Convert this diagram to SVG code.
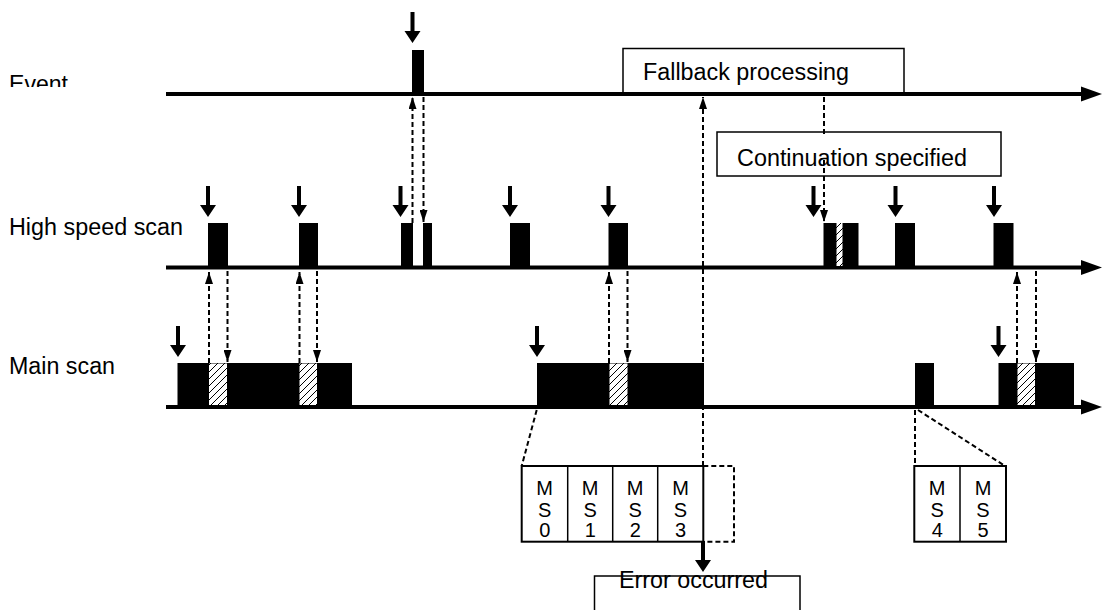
<svg xmlns="http://www.w3.org/2000/svg" width="1102" height="610" viewBox="0 0 1102 610">
  <style>
    .lbl { font-family: "Liberation Sans", Arial, sans-serif; font-size: 23px; fill: #000; }
    .ms { font-family: "Liberation Sans", Arial, sans-serif; font-size: 20px; fill: #000; text-anchor: middle; }
    .axis { stroke: #000; stroke-width: 4; fill: none; }
    .blk { fill: #000; }
    .hatch { fill: url(#hatch); }
    .dash { stroke: #000; stroke-width: 2; stroke-dasharray: 5 3; fill: none; }
    .dasharr { stroke: #000; stroke-width: 2; stroke-dasharray: 5 3; fill: none; marker-end: url(#tip); }
    .box { fill: #fff; stroke: #000; stroke-width: 1.5; }
    .cell { fill: #fff; stroke: #000; stroke-width: 2; }
    .div { stroke: #000; stroke-width: 1.5; }
  </style>
  <defs>
    <pattern id="hatch" patternUnits="userSpaceOnUse" width="7" height="7">
      <rect width="7" height="7" fill="#fff"/>
      <path d="M-1,8 L8,-1 M-1,1 L1,-1 M6,8 L8,6" stroke="#000" stroke-width="1"/>
    </pattern>
    <marker id="tip" markerUnits="userSpaceOnUse" markerWidth="12" markerHeight="8" refX="12" refY="4" orient="auto">
      <path d="M0,0 L12,4 L0,8 Z" fill="#000"/>
    </marker>
    <!-- solid trigger arrow, origin at the tip -->
    <path id="trig" d="M-2,-31 H2 V-12 H8 L0,0 L-8,-12 H-2 Z" fill="#000"/>
    <clipPath id="evclip"><rect x="0" y="60" width="160" height="27"/></clipPath>
  </defs>

  <!-- row labels -->
  <g id="labels">
    <text class="lbl" x="9" y="91.5" textLength="59" lengthAdjust="spacingAndGlyphs" clip-path="url(#evclip)">Event</text>
    <text class="lbl" x="9" y="234.5" textLength="174" lengthAdjust="spacingAndGlyphs">High speed scan</text>
    <text class="lbl" x="9" y="374" textLength="106" lengthAdjust="spacingAndGlyphs">Main scan</text>
  </g>

  <!-- callout boxes -->
  <g id="fallback">
    <rect class="box" x="623" y="48.5" width="281" height="46"/>
    <text class="lbl" x="643" y="79.5" textLength="206" lengthAdjust="spacingAndGlyphs">Fallback processing</text>
  </g>
  <g id="continuation">
    <rect class="box" x="717" y="132" width="284" height="44"/>
    <text class="lbl" x="737" y="165.5" textLength="230" lengthAdjust="spacingAndGlyphs">Continuation specified</text>
  </g>
  <g id="error">
    <path class="box" d="M594.5,612 V576 H800 V612"/>
    <text class="lbl" x="619" y="587.5" textLength="149" lengthAdjust="spacingAndGlyphs">Error occurred</text>
  </g>

  <!-- time axes -->
  <g id="axes">
    <line class="axis" x1="166" y1="94" x2="1084" y2="94"/>
    <polygon points="1081,86.5 1102,94 1081,101.5" fill="#000"/>
    <line class="axis" x1="166" y1="267.5" x2="1084" y2="267.5"/>
    <polygon points="1081,260 1102,267.5 1081,275" fill="#000"/>
    <line class="axis" x1="166" y1="407" x2="1084" y2="407"/>
    <polygon points="1081,399.5 1102,407 1081,414.5" fill="#000"/>
  </g>

  <!-- event task -->
  <g id="event-task">
    <rect class="blk" x="412" y="50" width="12" height="44"/>
  </g>

  <!-- high speed scan executions -->
  <g id="hs-scans">
    <rect class="blk" x="208" y="223" width="20" height="44"/>
    <rect class="blk" x="299" y="223" width="19" height="44"/>
    <rect class="blk" x="401" y="223" width="12" height="44"/>
    <rect class="blk" x="423" y="223" width="9" height="44"/>
    <rect class="blk" x="510" y="223" width="20" height="44"/>
    <rect class="blk" x="608.5" y="223" width="19.5" height="44"/>
    <rect class="blk" x="823.5" y="223" width="35" height="44"/>
    <rect class="hatch" x="836.5" y="223" width="6" height="43"/>
    <rect class="blk" x="895" y="223" width="20" height="44"/>
    <rect class="blk" x="993.5" y="223" width="20" height="44"/>
  </g>

  <!-- main scan executions -->
  <g id="main-scans">
    <rect class="blk" x="177.5" y="363" width="174.5" height="44"/>
    <rect class="hatch" x="209" y="363.5" width="18" height="41.5"/>
    <rect class="hatch" x="299.5" y="363.5" width="17.5" height="41.5"/>
    <rect class="blk" x="537" y="363" width="167" height="44"/>
    <rect class="hatch" x="609.5" y="363.5" width="18" height="41.5"/>
    <rect class="blk" x="915" y="363" width="19" height="44"/>
    <rect class="blk" x="998.5" y="363" width="75.5" height="44"/>
    <rect class="hatch" x="1017.5" y="363.5" width="17.5" height="41.5"/>
  </g>

  <!-- main scan program sections -->
  <g id="ms-block-a">
    <rect class="cell" x="521.7" y="466" width="181.6" height="75.7"/>
    <line class="div" x1="567.7" y1="466" x2="567.7" y2="541.7"/>
    <line class="div" x1="612.7" y1="466" x2="612.7" y2="541.7"/>
    <line class="div" x1="657.7" y1="466" x2="657.7" y2="541.7"/>
    <text class="ms"><tspan x="544.7" y="495">M</tspan><tspan x="544.7" y="516.5">S</tspan><tspan x="544.7" y="537">0</tspan></text>
    <text class="ms"><tspan x="590.2" y="495">M</tspan><tspan x="590.2" y="516.5">S</tspan><tspan x="590.2" y="537">1</tspan></text>
    <text class="ms"><tspan x="635.2" y="495">M</tspan><tspan x="635.2" y="516.5">S</tspan><tspan x="635.2" y="537">2</tspan></text>
    <text class="ms"><tspan x="680.5" y="495">M</tspan><tspan x="680.5" y="516.5">S</tspan><tspan x="680.5" y="537">3</tspan></text>
    <polyline class="dash" points="703.3,466 734,466 734,541.7 703.3,541.7"/>
  </g>
  <g id="ms-block-b">
    <rect class="cell" x="914.3" y="466" width="91.7" height="75.7"/>
    <line class="div" x1="960" y1="466" x2="960" y2="541.7"/>
    <text class="ms"><tspan x="937.2" y="495">M</tspan><tspan x="937.2" y="516.5">S</tspan><tspan x="937.2" y="537">4</tspan></text>
    <text class="ms"><tspan x="983" y="495">M</tspan><tspan x="983" y="516.5">S</tspan><tspan x="983" y="537">5</tspan></text>
  </g>

  <!-- trigger arrows -->
  <g id="triggers">
    <use href="#trig" x="412.5" y="43"/>
    <use href="#trig" x="208" y="217"/>
    <use href="#trig" x="299" y="217"/>
    <use href="#trig" x="400.5" y="217"/>
    <use href="#trig" x="510" y="217"/>
    <use href="#trig" x="608.5" y="217"/>
    <use href="#trig" x="813.5" y="217"/>
    <use href="#trig" x="895.5" y="217"/>
    <use href="#trig" x="994" y="217"/>
    <use href="#trig" x="178" y="357"/>
    <use href="#trig" x="537" y="357"/>
    <use href="#trig" x="998.5" y="357"/>
  </g>

  <!-- connectors -->
  <g id="connectors">
    <line class="dasharr" x1="209" y1="363" x2="209" y2="272"/>
    <line class="dasharr" x1="227.5" y1="271" x2="227.5" y2="362"/>
    <line class="dasharr" x1="299.5" y1="363" x2="299.5" y2="272"/>
    <line class="dasharr" x1="317" y1="271" x2="317" y2="362"/>
    <line class="dasharr" x1="609" y1="363" x2="609" y2="272"/>
    <line class="dasharr" x1="627.5" y1="271" x2="627.5" y2="362"/>
    <line class="dasharr" x1="1017" y1="363" x2="1017" y2="272"/>
    <line class="dasharr" x1="1036" y1="271" x2="1036" y2="362"/>
    <line class="dasharr" x1="412.5" y1="223" x2="412.5" y2="97"/>
    <line class="dasharr" x1="423.5" y1="97" x2="423.5" y2="222"/>
    <line class="dasharr" x1="703" y1="466" x2="703" y2="97"/>
    <line class="dash" x1="824" y1="97" x2="824" y2="136"/>
    <line class="dasharr" x1="824" y1="160" x2="824" y2="222"/>
    <line class="dash" x1="536.7" y1="410" x2="521.7" y2="466"/>
    <line class="dash" x1="915" y1="410" x2="915" y2="466"/>
    <line class="dash" x1="918" y1="410" x2="1005" y2="466"/>
    <use href="#trig" x="703" y="572"/>
  </g>
</svg>
